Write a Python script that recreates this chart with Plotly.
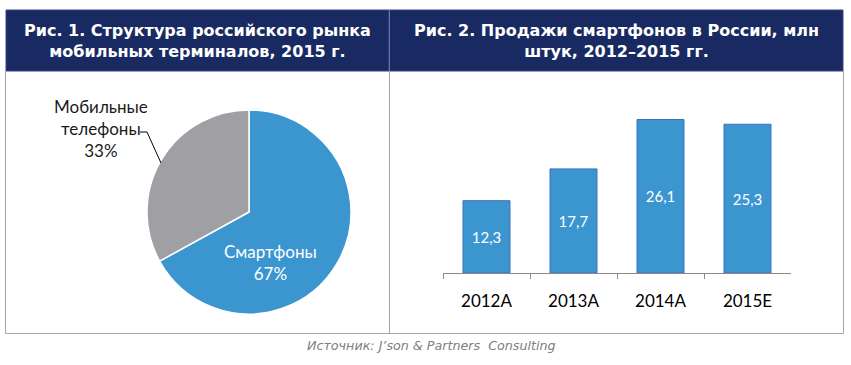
import plotly.graph_objects as go

W, H = 851, 365

pie_labels = ["Смартфоны", "Мобильные<br>телефоны"]
pie_values = [67, 33]
pie_colors = ["#3b96d0", "#a0a0a4"]

bar_categories = ["2012A", "2013A", "2014A", "2015E"]
bar_values = [12.3, 17.7, 26.1, 25.3]
bar_text = ["12,3", "17,7", "26,1", "25,3"]

title_left = "<b>Рис. 1. Структура российского рынка<br>мобильных терминалов, 2015 г.</b>"
title_right = "<b>Рис. 2. Продажи смартфонов в России, млн<br>штук, 2012–2015 гг.</b>"
source = "<i>Источник: J’son &amp; Partners  Consulting</i>"


def px(x):
    return x / W


def py(y):
    return 1 - y / H


fig = go.Figure()

fig.add_trace(go.Pie(
    labels=pie_labels, values=pie_values,
    marker=dict(colors=pie_colors, line=dict(color="white", width=1.5)),
    sort=False, direction="clockwise", rotation=0,
    textinfo="none", hoverinfo="label+percent",
    domain=dict(x=[px(147), px(351)], y=[py(314), py(110)]),
    showlegend=False,
))

fig.add_trace(go.Bar(
    x=bar_categories, y=bar_values, text=bar_text,
    textposition="inside", insidetextanchor="middle",
    textfont=dict(color="white", size=15, family="Lato"),
    marker=dict(color="#3b96d0", line=dict(color="#3f6fc2", width=1)),
    showlegend=False, xaxis="x", yaxis="y",
))

fig.update_layout(
    width=W, height=H,
    margin=dict(l=0, r=0, t=0, b=0),
    paper_bgcolor="white", plot_bgcolor="white",
    bargap=0.46,
    xaxis=dict(domain=[px(443), px(791)], range=[-0.5, 3.5],
               showline=True, linecolor="#8a8a8a", linewidth=1,
               ticks="outside", tickson="boundaries", ticklen=5, tickcolor="#8a8a8a",
               tickfont=dict(family="Lato", size=17, color="black"),
               ticklabelstandoff=13,
               showgrid=False, zeroline=False, fixedrange=True),
    yaxis=dict(domain=[py(273), py(100)], range=[0, 173 / 5.88],
               visible=False, showgrid=False, zeroline=False),
    font=dict(family="Lato"),
)

shapes = []
# headers
hdr = "#192a62"
shapes.append(dict(type="rect", xref="paper", yref="paper",
                   x0=px(6), x1=px(389), y0=py(71), y1=py(10),
                   fillcolor=hdr, line=dict(color="#3a4386", width=1), layer="below"))
shapes.append(dict(type="rect", xref="paper", yref="paper",
                   x0=px(389), x1=px(843), y0=py(71), y1=py(10),
                   fillcolor=hdr, line=dict(color="#3a4386", width=1), layer="below"))
# borders
bc = "#a6a6a6"
for (x0, y0, x1, y1) in [(5.5, 71, 5.5, 333.5), (389.5, 71, 389.5, 333.5),
                         (843.5, 71, 843.5, 333.5), (5.5, 333.5, 843.5, 333.5)]:
    shapes.append(dict(type="line", xref="paper", yref="paper",
                       x0=px(x0), x1=px(x1), y0=py(y0), y1=py(y1),
                       line=dict(color=bc, width=1)))
shapes.append(dict(type="line", xref="paper", yref="paper",
                   x0=px(389.5), x1=px(389.5), y0=py(71), y1=py(10),
                   line=dict(color="#7070a8", width=1)))
# leader line for pie label
shapes.append(dict(type="path", xref="paper", yref="paper",
                   path=f"M {px(140)},{py(132)} L {px(147)},{py(132)} L {px(161)},{py(163)}",
                   line=dict(color="black", width=1)))
fig.update_layout(shapes=shapes)

ann = []
ann.append(dict(text=title_left, x=px(197.5), y=py(41), xref="paper", yref="paper",
                showarrow=False, font=dict(family="DejaVu Sans", size=16, color="white"),
                align="center", xanchor="center", yanchor="middle"))
ann.append(dict(text=title_right, x=px(616), y=py(41), xref="paper", yref="paper",
                showarrow=False, font=dict(family="DejaVu Sans", size=16, color="white"),
                align="center", xanchor="center", yanchor="middle"))
ann.append(dict(text=f"{pie_labels[1]}<br>{pie_values[1]}%", x=px(101), y=py(128),
                xref="paper", yref="paper", showarrow=False,
                font=dict(family="Lato", size=17, color="#1a1a1a"),
                align="center", xanchor="center", yanchor="middle"))
ann.append(dict(text=f"{pie_labels[0]}<br>{pie_values[0]}%", x=px(270), y=py(262),
                xref="paper", yref="paper", showarrow=False,
                font=dict(family="Lato", size=17, color="white"),
                align="center", xanchor="center", yanchor="middle"))
ann.append(dict(text=source, x=px(431), y=py(345), xref="paper", yref="paper",
                showarrow=False, font=dict(family="DejaVu Sans", size=12.7, color="#808080"),
                xanchor="center", yanchor="middle"))
fig.update_layout(annotations=ann)

fig.write_html("out.html", config={"displayModeBar": False},
               post_script="document.body.style.margin='0';document.body.style.padding='0';")
